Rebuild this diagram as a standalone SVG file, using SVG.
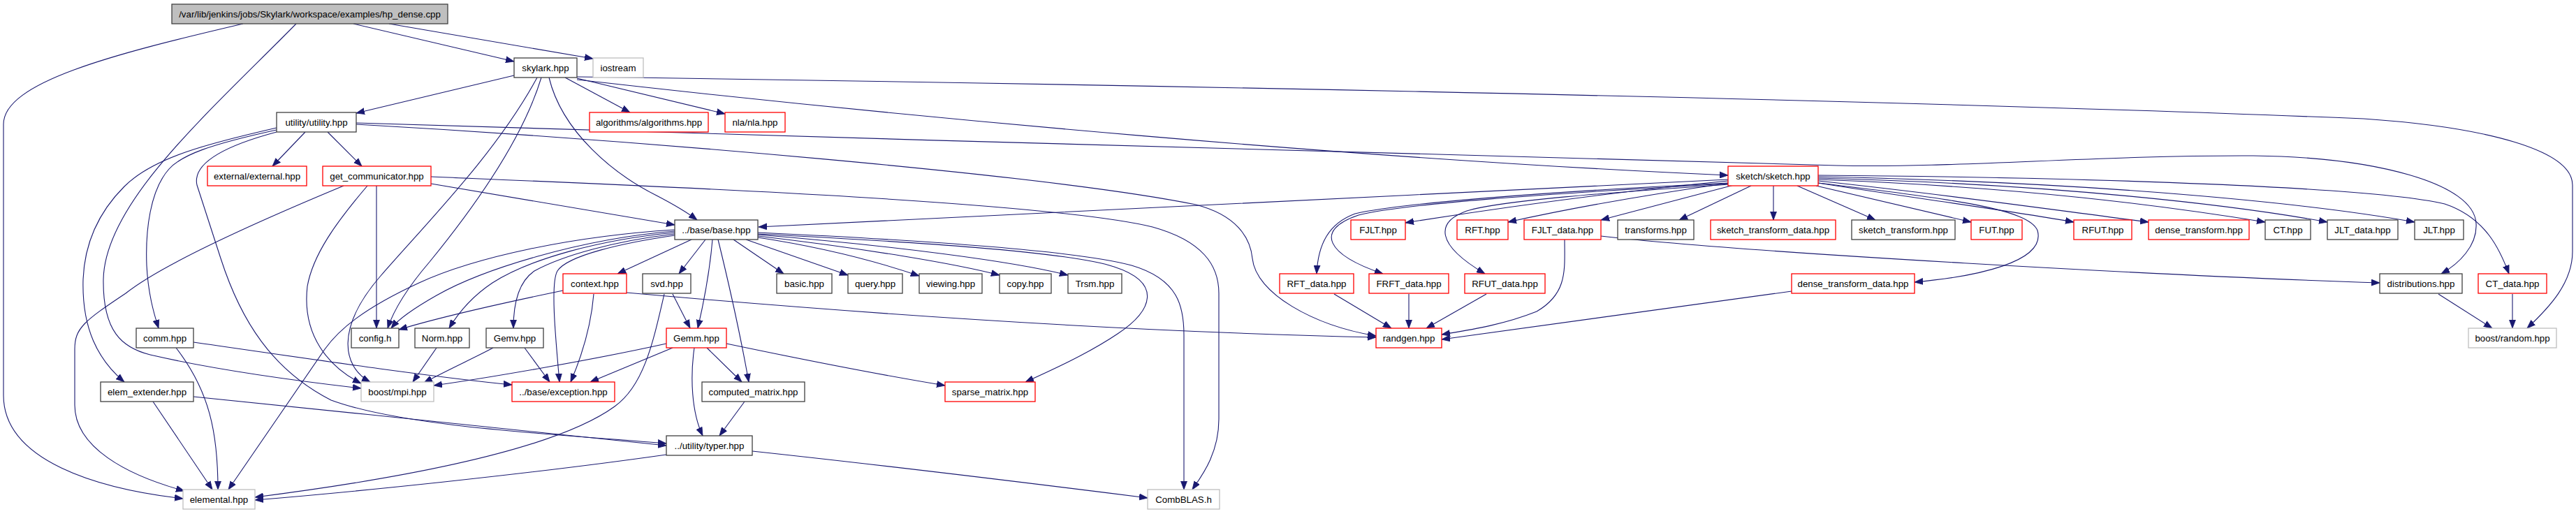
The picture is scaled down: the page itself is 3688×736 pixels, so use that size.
<svg xmlns="http://www.w3.org/2000/svg" width="3688" height="736" viewBox="0 0 3688 736">
<style>
.n rect{fill:#fff;stroke:#404040;stroke-width:1.3}
.n.r rect{stroke:#ff0000}
.n.g rect{stroke:#bfbfbf}
.n.root rect{fill:#bfbfbf}
.n text{font-family:"Liberation Sans",Arial,sans-serif;font-size:13.3px;text-anchor:middle;fill:#000}
#edges path{fill:none;stroke:#191970;stroke-width:1.1;marker-end:url(#a)}
</style>
<defs>
<marker id="a" markerUnits="userSpaceOnUse" markerWidth="13" markerHeight="10" refX="12" refY="5" orient="auto" viewBox="0 0 13 10">
<path d="M0,0.5 L12,5 L0,9.5 z" fill="#191970" stroke="#191970" stroke-width="0.8"/>
</marker>
</defs>
<rect width="3688" height="736" fill="#fff"/>
<g id="edges">
<path d="M348,34 C160,78 5,118 5,178 L5,566 C5,660 140,700 262,714"/>
<path d="M424,34 C300,160 150,290 148,400 C147,475 175,498 215,508 C310,530 430,546 517,556"/>
<path d="M506,34 L736,88"/>
<path d="M557,34 L849,84"/>
<path d="M736,108 L510,162"/>
<path d="M809,111 L902,161"/>
<path d="M826,112 L1038,163"/>
<path d="M786,111 C805,190 880,250 940,280 C965,293 985,305 998,315"/>
<path d="M826,114 C1300,168 1950,228 2474,251"/>
<path d="M826,110 C1400,118 2600,138 3384,170 C3560,182 3683,215 3683,265 L3683,360 C3683,405 3650,440 3618,470"/>
<path d="M775,111 C745,210 660,320 615,375 C585,410 565,440 555,470"/>
<path d="M769,111 C710,220 610,320 545,395 C480,470 490,525 530,547"/>
<path d="M437,189 L390,238"/>
<path d="M469,189 L518,238"/>
<path d="M396,183 C300,205 220,225 178,267 C140,305 121,350 119,400 C117,470 140,515 178,547"/>
<path d="M396,186 C300,207 260,222 242,242 C215,272 208,330 210,380 C212,420 220,448 227,470"/>
<path d="M396,189 C310,212 276,238 282,265 L316,370 C345,460 390,530 474,573 C580,612 800,622 954,635"/>
<path d="M510,178 C900,200 1500,250 1712,293 C1770,308 1790,340 1793,370 C1798,420 1880,466 1970,481"/>
<path d="M510,176 C1200,198 2300,228 2630,237 C2800,241 3000,222 3226,223 C3400,225 3542,262 3545,320 C3547,352 3520,378 3495,392"/>
<path d="M492,266 C350,325 230,380 180,420 C120,460 107,470 107,500 L107,580 C107,640 180,680 264,703"/>
<path d="M526,266 C480,320 448,365 440,410 C432,480 470,525 517,549"/>
<path d="M539,266 L539,470"/>
<path d="M617,263 C750,285 880,308 966,322"/>
<path d="M617,253 C900,265 1500,288 1650,325 C1722,345 1745,380 1745,420 L1745,600 C1745,650 1720,682 1707,701"/>
<path d="M1085,333 C1300,343 1540,358 1620,380 C1688,400 1695,440 1695,480 L1695,701"/>
<path d="M1085,335 C1300,346 1530,360 1595,382 C1665,405 1650,445 1600,478 C1560,505 1510,528 1468,547"/>
<path d="M1085,336 C1280,352 1450,374 1529,394"/>
<path d="M1085,338 C1240,356 1370,378 1431,394"/>
<path d="M1085,340 C1190,356 1260,376 1316,395"/>
<path d="M1068,343 L1214,394"/>
<path d="M1050,343 L1122,392"/>
<path d="M1028,343 C1042,400 1060,480 1072,547"/>
<path d="M1020,343 C1016,390 1006,440 999,470"/>
<path d="M1010,343 L972,392"/>
<path d="M990,343 L884,392"/>
<path d="M966,337 C890,348 812,366 798,388 C788,405 795,480 801,547"/>
<path d="M966,335 C880,345 805,366 765,388 C740,405 735,440 735,470"/>
<path d="M966,333 C860,343 760,370 705,405 C675,425 655,450 643,470"/>
<path d="M966,331 C830,342 690,386 625,423 C595,440 572,455 560,470"/>
<path d="M966,329 C820,338 680,368 600,405 C520,442 485,472 465,500 L327,701"/>
<path d="M2474,257 C2000,280 1400,310 1086,325"/>
<path d="M2474,259 C2300,276 2150,297 2012,319"/>
<path d="M2476,262 C2350,280 2240,300 2159,318"/>
<path d="M2482,265 L2292,315"/>
<path d="M2507,266 L2404,315"/>
<path d="M2539,266 L2539,315"/>
<path d="M2573,266 L2685,315"/>
<path d="M2600,266 L2822,318"/>
<path d="M2603,262 C2750,285 2880,302 2969,318"/>
<path d="M2603,259 C2800,280 2950,302 3076,318"/>
<path d="M2603,257 C2900,268 3100,295 3243,318"/>
<path d="M2603,255 C2950,264 3200,294 3332,318"/>
<path d="M2603,253 C3000,261 3300,290 3457,318"/>
<path d="M2603,251 C3000,254 3400,268 3500,292 C3560,312 3580,360 3592,392"/>
<path d="M2474,262 C2200,275 2000,292 1940,306 C1902,320 1887,350 1885,392"/>
<path d="M2474,263 C2200,278 2010,292 1945,308 C1880,330 1900,365 1980,392"/>
<path d="M2476,264 C2300,276 2150,287 2100,302 C2055,318 2055,350 2126,392"/>
<path d="M2603,262 C2800,285 2905,300 2917,330 C2930,375 2830,396 2741,404"/>
<path d="M2240,343 C2240,385 2245,420 2200,446 C2150,466 2100,473 2064,479"/>
<path d="M2292,338 C2500,362 3100,395 3407,405"/>
<path d="M1910,421 L1992,470"/>
<path d="M2017,421 L2017,470"/>
<path d="M2128,421 L2042,470"/>
<path d="M2565,417 L2064,486"/>
<path d="M897,419 C1200,446 1600,475 1970,483"/>
<path d="M3491,421 L3568,470"/>
<path d="M3597,421 L3597,470"/>
<path d="M806,416 C700,438 620,457 571,472"/>
<path d="M850,421 C846,470 832,512 817,547"/>
<path d="M963,421 L988,470"/>
<path d="M951,421 C935,490 922,552 880,582 C800,640 600,682 365,712"/>
<path d="M625,498 L591,547"/>
<path d="M706,498 C680,512 640,530 607,548"/>
<path d="M751,498 L787,547"/>
<path d="M277,490 C450,515 620,540 733,551"/>
<path d="M252,498 C300,560 312,620 312,701"/>
<path d="M219,575 L304,701"/>
<path d="M277,568 C500,590 800,623 954,638"/>
<path d="M954,492 C850,515 700,541 621,552"/>
<path d="M963,498 L845,547"/>
<path d="M1012,498 L1062,547"/>
<path d="M994,498 C988,540 990,590 1006,624"/>
<path d="M1040,492 C1150,515 1280,540 1353,552"/>
<path d="M1066,575 L1030,624"/>
<path d="M954,651 C750,680 500,705 365,716"/>
<path d="M1077,646 C1300,670 1500,695 1643,713"/>
</g>
<g id="n_root" class="n root"><rect x="246" y="6" width="395" height="28"/><text x="443.5" y="25">/var/lib/jenkins/jobs/Skylark/workspace/examples/hp_dense.cpp</text></g>
<g id="n_skylark" class="n"><rect x="736" y="83" width="90" height="28"/><text x="781" y="102">skylark.hpp</text></g>
<g id="n_iostream" class="n g"><rect x="849" y="83" width="72" height="28"/><text x="885" y="102">iostream</text></g>
<g id="n_utility" class="n"><rect x="396" y="161" width="114" height="28"/><text x="453" y="180">utility/utility.hpp</text></g>
<g id="n_algorithms" class="n r"><rect x="844" y="161" width="170" height="28"/><text x="929" y="180">algorithms/algorithms.hpp</text></g>
<g id="n_nla" class="n r"><rect x="1038" y="161" width="86" height="28"/><text x="1081" y="180">nla/nla.hpp</text></g>
<g id="n_external" class="n r"><rect x="297" y="238" width="142" height="28"/><text x="368" y="257">external/external.hpp</text></g>
<g id="n_get_communicator" class="n r"><rect x="462" y="238" width="155" height="28"/><text x="539.5" y="257">get_communicator.hpp</text></g>
<g id="n_sketch" class="n r"><rect x="2474" y="238" width="129" height="28"/><text x="2538.5" y="257">sketch/sketch.hpp</text></g>
<g id="n_base" class="n"><rect x="966" y="315" width="119" height="28"/><text x="1025.5" y="334">../base/base.hpp</text></g>
<g id="n_FJLT" class="n r"><rect x="1934" y="315" width="78" height="28"/><text x="1973" y="334">FJLT.hpp</text></g>
<g id="n_RFT" class="n r"><rect x="2086" y="315" width="73" height="28"/><text x="2122.5" y="334">RFT.hpp</text></g>
<g id="n_FJLT_data" class="n r"><rect x="2182" y="315" width="110" height="28"/><text x="2237" y="334">FJLT_data.hpp</text></g>
<g id="n_transforms" class="n"><rect x="2316" y="315" width="109" height="28"/><text x="2370.5" y="334">transforms.hpp</text></g>
<g id="n_sketch_transform_data" class="n r"><rect x="2449" y="315" width="179" height="28"/><text x="2538.5" y="334">sketch_transform_data.hpp</text></g>
<g id="n_sketch_transform" class="n"><rect x="2651" y="315" width="148" height="28"/><text x="2725" y="334">sketch_transform.hpp</text></g>
<g id="n_FUT" class="n r"><rect x="2822" y="315" width="73" height="28"/><text x="2858.5" y="334">FUT.hpp</text></g>
<g id="n_RFUT" class="n r"><rect x="2969" y="315" width="83" height="28"/><text x="3010.5" y="334">RFUT.hpp</text></g>
<g id="n_dense_transform" class="n r"><rect x="3076" y="315" width="144" height="28"/><text x="3148" y="334">dense_transform.hpp</text></g>
<g id="n_CT" class="n"><rect x="3243" y="315" width="65" height="28"/><text x="3275.5" y="334">CT.hpp</text></g>
<g id="n_JLT_data" class="n"><rect x="3332" y="315" width="101" height="28"/><text x="3382.5" y="334">JLT_data.hpp</text></g>
<g id="n_JLT" class="n"><rect x="3457" y="315" width="70" height="28"/><text x="3492" y="334">JLT.hpp</text></g>
<g id="n_context" class="n r"><rect x="806" y="392" width="91" height="28"/><text x="851.5" y="411">context.hpp</text></g>
<g id="n_svd" class="n"><rect x="920" y="392" width="69" height="28"/><text x="954.5" y="411">svd.hpp</text></g>
<g id="n_basic" class="n"><rect x="1112" y="392" width="79" height="28"/><text x="1151.5" y="411">basic.hpp</text></g>
<g id="n_query" class="n"><rect x="1214" y="392" width="78" height="28"/><text x="1253" y="411">query.hpp</text></g>
<g id="n_viewing" class="n"><rect x="1316" y="392" width="90" height="28"/><text x="1361" y="411">viewing.hpp</text></g>
<g id="n_copy" class="n"><rect x="1431" y="392" width="74" height="28"/><text x="1468" y="411">copy.hpp</text></g>
<g id="n_Trsm" class="n"><rect x="1529" y="392" width="77" height="28"/><text x="1567.5" y="411">Trsm.hpp</text></g>
<g id="n_RFT_data" class="n r"><rect x="1832" y="392" width="106" height="28"/><text x="1885" y="411">RFT_data.hpp</text></g>
<g id="n_FRFT_data" class="n r"><rect x="1960" y="392" width="114" height="28"/><text x="2017" y="411">FRFT_data.hpp</text></g>
<g id="n_RFUT_data" class="n r"><rect x="2097" y="392" width="115" height="28"/><text x="2154.5" y="411">RFUT_data.hpp</text></g>
<g id="n_dense_transform_data" class="n r"><rect x="2565" y="392" width="176" height="28"/><text x="2653" y="411">dense_transform_data.hpp</text></g>
<g id="n_distributions" class="n"><rect x="3407" y="392" width="118" height="28"/><text x="3466" y="411">distributions.hpp</text></g>
<g id="n_CT_data" class="n r"><rect x="3548" y="392" width="98" height="28"/><text x="3597" y="411">CT_data.hpp</text></g>
<g id="n_comm" class="n"><rect x="195" y="470" width="82" height="28"/><text x="236" y="489">comm.hpp</text></g>
<g id="n_config" class="n"><rect x="503" y="470" width="68" height="28"/><text x="537" y="489">config.h</text></g>
<g id="n_Norm" class="n"><rect x="594" y="470" width="78" height="28"/><text x="633" y="489">Norm.hpp</text></g>
<g id="n_Gemv" class="n"><rect x="696" y="470" width="82" height="28"/><text x="737" y="489">Gemv.hpp</text></g>
<g id="n_Gemm" class="n r"><rect x="954" y="470" width="86" height="28"/><text x="997" y="489">Gemm.hpp</text></g>
<g id="n_randgen" class="n r"><rect x="1970" y="470" width="94" height="28"/><text x="2017" y="489">randgen.hpp</text></g>
<g id="n_boost_random" class="n g"><rect x="3534" y="470" width="126" height="28"/><text x="3597" y="489">boost/random.hpp</text></g>
<g id="n_elem_extender" class="n"><rect x="144" y="547" width="133" height="28"/><text x="210.5" y="566">elem_extender.hpp</text></g>
<g id="n_boost_mpi" class="n g"><rect x="517" y="547" width="104" height="28"/><text x="569" y="566">boost/mpi.hpp</text></g>
<g id="n_exception" class="n r"><rect x="733" y="547" width="147" height="28"/><text x="806.5" y="566">../base/exception.hpp</text></g>
<g id="n_computed_matrix" class="n"><rect x="1005" y="547" width="147" height="28"/><text x="1078.5" y="566">computed_matrix.hpp</text></g>
<g id="n_sparse_matrix" class="n r"><rect x="1353" y="547" width="129" height="28"/><text x="1417.5" y="566">sparse_matrix.hpp</text></g>
<g id="n_typer" class="n"><rect x="954" y="624" width="123" height="28"/><text x="1015.5" y="643">../utility/typer.hpp</text></g>
<g id="n_elemental" class="n g"><rect x="262" y="701" width="103" height="28"/><text x="313.5" y="720">elemental.hpp</text></g>
<g id="n_CombBLAS" class="n g"><rect x="1643" y="701" width="103" height="28"/><text x="1694.5" y="720">CombBLAS.h</text></g>
</svg>
